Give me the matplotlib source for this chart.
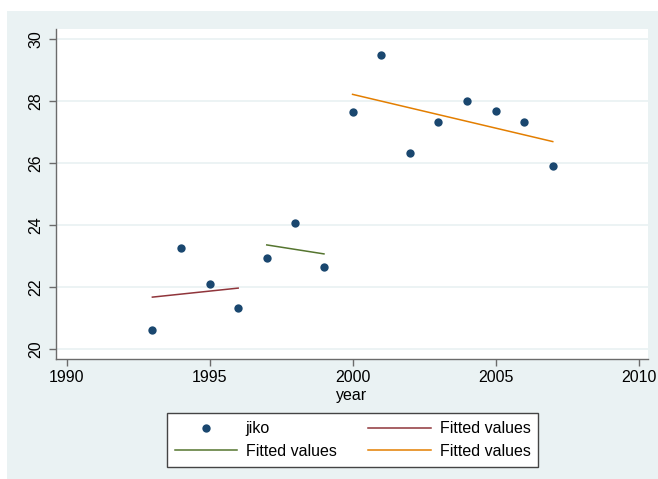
import numpy as np
import matplotlib
matplotlib.use('Agg')
import matplotlib.pyplot as plt
from matplotlib.patches import Rectangle

# DATA
years = [1993, 1994, 1995, 1996, 1997, 1998, 1999,
         2000, 2001, 2002, 2003, 2004, 2005, 2006, 2007]
jiko = [20.61, 23.26, 22.10, 21.32, 22.94, 24.06, 22.65,
        27.65, 29.48, 26.32, 27.32, 28.00, 27.68, 27.32, 25.90]
x_ticks = [1990, 1995, 2000, 2005, 2010]
y_ticks = [20, 22, 24, 26, 28, 30]

# fit periods (first year, last year) and colours, like Stata s2color
periods = [(1993, 1996), (1997, 1999), (2000, 2007)]
fit_colors = ['#90353b', '#55752f', '#e37e00']

plt.rcParams['font.family'] = ['Liberation Sans', 'DejaVu Sans']
plt.rcParams['font.size'] = 11.5

fig = plt.figure(figsize=(6.58, 4.79), dpi=100)
fig.patch.set_facecolor('white')
# graph region
fig.patches.append(Rectangle((7 / 658, 0), 1, 1 - 11 / 479, transform=fig.transFigure,
                             facecolor='#eaf2f3', edgecolor='none', zorder=-5))

ax = fig.add_axes([56 / 658, 1 - 359 / 479, 592 / 658, 330 / 479])
ax.set_zorder(1)
ax.set_facecolor('white')

yrs = np.array(years)
vals = np.array(jiko)

ax.plot(yrs, vals, 'o', color='#1a476f', ms=6, mec='none', label='jiko', zorder=3)

fit_lines = []
for (y0, y1), c in zip(periods, fit_colors):
    m = (yrs >= y0) & (yrs <= y1)
    slope, icpt = np.polyfit(yrs[m], vals[m], 1)
    xs = yrs[m]
    ln, = ax.plot(xs, icpt + slope * xs, color=c, lw=1.1, label='Fitted values', zorder=2)
    fit_lines.append(ln)

# Format axes
ax.set_xlim(1989.63, 2010.33)
ax.set_ylim(19.68, 30.33)
ax.set_xticks(x_ticks)
ax.set_yticks(y_ticks)
ax.set_yticklabels([str(v) for v in y_ticks], rotation=90, va='center')
ax.set_xlabel('year', labelpad=2)

for y in y_ticks:
    ax.axhline(y, color='#eaf2f3', lw=1.3, zorder=1)

for s in ['top', 'right']:
    ax.spines[s].set_visible(False)
for s in ['left', 'bottom']:
    ax.spines[s].set_color('#6b6b6b')
    ax.spines[s].set_linewidth(1.0)
ax.tick_params(axis='both', colors='#6b6b6b', labelcolor='black', length=5, width=1.0)
ax.tick_params(axis='x', pad=3)
ax.tick_params(axis='y', pad=4)

# legend: column 1 = jiko, green; column 2 = red, orange
pts = ax.get_lines()[0]
handles = [pts, fit_lines[1], fit_lines[0], fit_lines[2]]
labels = ['jiko', 'Fitted values', 'Fitted values', 'Fitted values']
leg = fig.legend(handles, labels, ncol=2, loc='center',
                 bbox_to_anchor=(352.5 / 658, 1 - 440 / 479),
                 frameon=True, fancybox=False, shadow=False, framealpha=1,
                 handlelength=3.9, handletextpad=0.55, columnspacing=2.0,
                 borderpad=0.5, labelspacing=0.45, numpoints=1)
leg.get_frame().set_edgecolor('#444444')
leg.get_frame().set_facecolor('white')
leg.get_frame().set_linewidth(1.0)

plt.savefig('out.png', dpi=100)
